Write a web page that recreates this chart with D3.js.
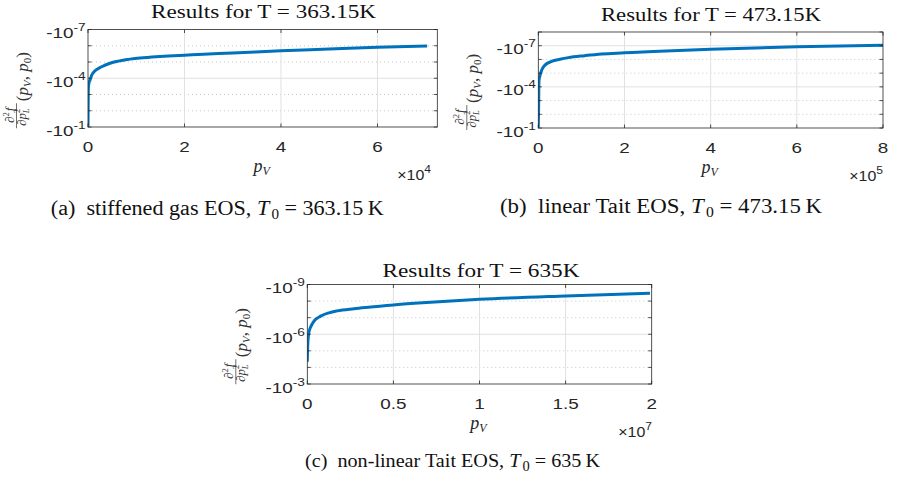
<!DOCTYPE html>
<html>
<head>
<meta charset="utf-8">
<script src="https://cdn.jsdelivr.net/npm/d3@7/dist/d3.min.js"></script>
<style>
body { margin: 0; background: #fff; }
svg { display: block; }
</style>
</head>
<body>
<div id="fig"></div>
<script>
// Values. f is negative, we keep |f| and draw it on a log axis
// (labels carry the minus sign, big |f| at the bottom).

// (a) stiffened gas EOS
var pvA = [0, 40, 70, 150, 280, 414, 760, 1450, 2830, 4560, 6290, 9740, 13200, 16650, 20000, 24000, 30000, 40000, 50000, 60000, 70300];
var fA  = [9e-2, 3e-3, 4.3e-4, 2.4e-4, 1.6e-4, 1.3e-4, 6.5e-5, 3.5e-5, 1.96e-5, 1.2e-5, 8.8e-6, 6.0e-6, 5.0e-6, 4.3e-6, 3.8e-6, 3.3e-6, 2.8e-6, 2.0e-6, 1.6e-6, 1.25e-6, 1.05e-6];

// (b) linear Tait EOS
var pvB = [0, 800, 1600, 3900, 7800, 15500, 31000, 50300, 69600, 108000, 147000, 200000, 267000, 400000, 600000, 800000];
var fB  = [9e-2, 2e-3, 3.5e-5, 1.5e-5, 6.1e-6, 2.6e-6, 1.4e-6, 9.8e-7, 7.4e-7, 5.3e-7, 4.0e-7, 3.3e-7, 2.6e-7, 1.8e-7, 1.2e-7, 9.1e-8];

// (c) non-linear Tait EOS
var pvC = [0, 15000, 40000, 99000, 198000, 390000, 779000, 1260000, 1740000, 2710000, 3690000, 5000000, 6690000, 10000000, 15000000, 19900000];
var fC  = [4.5e-5, 1e-5, 2.3e-6, 7.4e-7, 3.6e-7, 1.6e-7, 8.1e-8, 5.1e-8, 3.9e-8, 2.9e-8, 2.3e-8, 1.7e-8, 1.26e-8, 7.8e-9, 4.9e-9, 3.4e-9];

// ticks
var xTicksA = [0, 2, 4, 6];
var xTicksB = [0, 2, 4, 6, 8];
var xTicksC = [0, 0.5, 1, 1.5, 2];
var xExpA = 4, xExpB = 5, xExpC = 7;
var yExpA = [-7, -4, -1];
var yExpB = [-7, -4, -1];
var yExpC = [-9, -6, -3];

// texts
var titles = ["Results for T = 363.15K", "Results for T = 473.15K", "Results for T = 635K"];
var capTags = ["(a)", "(b)", "(c)"];
var capNames = ["stiffened gas EOS, ", "linear Tait EOS, ", "non-linear Tait EOS, "];
var capT0 = ["363.15", "473.15", "635"];


var svg = d3.select("#fig")
	.append("svg")
	.attr("width", 898)
	.attr("height", 478);

var blue = "#0072BD";
var axisColor = "#262626";

// layout of the three panels
var panels = [
	{pv: pvA, f: fA, xTicks: xTicksA, xExp: xExpA, yExp: yExpA, yTop: 1e-7, yBottom: 1e-1, xMax: 72400,
	 left: 88, right: 437.3, top: 29.5, bottom: 127, expRight: 431,
	 title: titles[0], titleX: 263.5, titleY: 18, titleW: 225,
	 cap: 0, capX: 217.3, capY: 215, capW: 333, capSize: 20.5},
	{pv: pvB, f: fB, xTicks: xTicksB, xExp: xExpB, yExp: yExpB, yTop: 1e-8, yBottom: 1e-1, xMax: 8e5,
	 left: 538.3, right: 883, top: 32, bottom: 128, expRight: 883,
	 title: titles[1], titleX: 711, titleY: 20.7, titleW: 220,
	 cap: 1, capX: 661, capY: 212.7, capW: 322, capSize: 20.5},
	{pv: pvC, f: fC, xTicks: xTicksC, xExp: xExpC, yExp: yExpC, yTop: 1e-9, yBottom: 1e-3, xMax: 2e7,
	 left: 307.3, right: 651.7, top: 284.5, bottom: 384, expRight: 652,
	 title: titles[2], titleX: 481, titleY: 276.7, titleW: 197,
	 cap: 2, capX: 452.5, capY: 467.3, capW: 295, capSize: 19.5}
];

// text stretched horizontally (the figure is wider than its fonts)
function sText(g, x, y, sx)
{
	return g.append("text").attr("transform", "translate(" + x + "," + y + ") scale(" + sx + ",1)");
}

panels.forEach(function(p, i)
{
	var g = svg.append("g");
	var x = d3.scaleLinear().domain([0, p.xMax]).range([p.left, p.right]);
	var y = d3.scaleLog().domain([p.yBottom, p.yTop]).range([p.bottom, p.top]);
	var mult = Math.pow(10, p.xExp);

	var lo = Math.round(Math.log10(p.yTop)), hi = Math.round(Math.log10(p.yBottom));
	var decades = d3.range(lo, hi + 1);

	// grid
	g.selectAll(".hgrid")
		.data(decades.filter(function(e){ return e != lo && e != hi; }))
		.enter().append("line")
			.attr("x1", p.left).attr("x2", p.right)
			.attr("y1", function(e){ return y(Math.pow(10, e)); })
			.attr("y2", function(e){ return y(Math.pow(10, e)); })
			.attr("stroke", function(e){ return p.yExp.indexOf(e) >= 0 ? "#e1e1e1" : "#c8c8c8"; })
			.attr("stroke-width", 1)
			.attr("stroke-dasharray", function(e){ return p.yExp.indexOf(e) >= 0 ? null : "1,3"; });

	g.selectAll(".vgrid")
		.data(p.xTicks.filter(function(t){ return x(t * mult) > p.left + 1 && x(t * mult) < p.right - 1; }))
		.enter().append("line")
			.attr("x1", function(t){ return x(t * mult); })
			.attr("x2", function(t){ return x(t * mult); })
			.attr("y1", p.top).attr("y2", p.bottom)
			.attr("stroke", "#e1e1e1").attr("stroke-width", 1);

	// curve
	var clipId = "clip" + i;
	svg.append("clipPath").attr("id", clipId)
		.append("rect")
			.attr("x", p.left).attr("y", p.top)
			.attr("width", p.right - p.left).attr("height", p.bottom - p.top);

	var pts = p.pv.map(function(v, k){ return [v, p.f[k]]; });
	g.append("path")
		.datum(pts)
		.attr("clip-path", "url(#" + clipId + ")")
		.attr("fill", "none")
		.attr("stroke", blue)
		.attr("stroke-width", 3)
		.attr("stroke-linejoin", "round")
		.attr("d", d3.line()
			.x(function(d){ return x(d[0]); })
			.y(function(d){ return y(d[1]); })
			.curve(d3.curveMonotoneX));

	// box
	g.append("rect")
		.attr("x", p.left).attr("y", p.top)
		.attr("width", p.right - p.left).attr("height", p.bottom - p.top)
		.attr("fill", "none").attr("stroke", axisColor).attr("stroke-width", 0.8);

	// ticks (inside, mirrored)
	var tl = 3.5;
	p.xTicks.forEach(function(t)
	{
		var xx = x(t * mult);
		g.append("line").attr("x1", xx).attr("x2", xx).attr("y1", p.bottom).attr("y2", p.bottom - tl)
			.attr("stroke", axisColor).attr("stroke-width", 0.8);
		g.append("line").attr("x1", xx).attr("x2", xx).attr("y1", p.top).attr("y2", p.top + tl)
			.attr("stroke", axisColor).attr("stroke-width", 0.8);
	});
	decades.forEach(function(e)
	{
		var yy = y(Math.pow(10, e));
		g.append("line").attr("x1", p.left).attr("x2", p.left + tl).attr("y1", yy).attr("y2", yy)
			.attr("stroke", axisColor).attr("stroke-width", 0.8);
		g.append("line").attr("x1", p.right).attr("x2", p.right - tl).attr("y1", yy).attr("y2", yy)
			.attr("stroke", axisColor).attr("stroke-width", 0.8);
	});

	// x tick labels
	p.xTicks.forEach(function(t)
	{
		sText(g, x(t * mult), p.bottom + 24.5, 1.3)
			.attr("text-anchor", "middle")
			.attr("font-family", "Liberation Sans, Arial, sans-serif")
			.attr("font-size", 14.5)
			.attr("fill", axisColor)
			.text(t);
	});

	// y tick labels  -10^e
	p.yExp.forEach(function(e)
	{
		var t = sText(g, p.left - 2.5, y(Math.pow(10, e)) + 8.5, 1.3)
			.attr("text-anchor", "end")
			.attr("font-family", "Liberation Sans, Arial, sans-serif")
			.attr("fill", axisColor);
		t.append("tspan").attr("font-size", 14.5).text("-10");
		t.append("tspan").attr("font-size", 10.5).attr("dy", -7).text(String(e));
	});

	// x10^n
	var ex = sText(g, p.expRight, p.bottom + 53, 1.1)
		.attr("text-anchor", "end")
		.attr("font-family", "Liberation Sans, Arial, sans-serif")
		.attr("fill", axisColor);
	ex.append("tspan").attr("font-size", 14.5).text("\u00d710");
	ex.append("tspan").attr("font-size", 11).attr("dy", -7.5).text(p.xExp);

	// x label p_V
	var xl = g.append("text")
		.attr("x", (p.left + p.right) / 2 - 1)
		.attr("y", p.bottom + 45)
		.attr("text-anchor", "middle")
		.attr("font-family", "Liberation Serif, serif")
		.attr("fill", axisColor);
	xl.append("tspan").attr("font-style", "italic").attr("font-size", 18).text("p");
	xl.append("tspan").attr("font-style", "italic").attr("font-size", 12).attr("dy", 3).text("V");

	// y label  d2f/dpL2 (pV, p0), rotated
	var yl = g.append("g")
		.attr("transform", "translate(" + (p.left - 85) + "," + ((p.top + p.bottom) / 2) + ") rotate(-90)")
		.attr("font-family", "Liberation Serif, serif")
		.attr("fill", "#333");
	var num = yl.append("text").attr("x", -37).attr("y", 10.5).attr("text-anchor", "middle").attr("font-size", 13);
	num.append("tspan").text("\u2202");
	num.append("tspan").attr("font-size", 8.5).attr("dy", -5).text("2");
	num.append("tspan").attr("font-style", "italic").attr("dx", 1).attr("dy", 5).text("f");
	yl.append("line").attr("x1", -50).attr("x2", -25).attr("y1", 13.5).attr("y2", 13.5)
		.attr("stroke", "#333").attr("stroke-width", 0.7);
	var den = yl.append("text").attr("x", -39).attr("y", 22.5).attr("text-anchor", "middle").attr("font-size", 13);
	den.append("tspan").text("\u2202");
	den.append("tspan").attr("font-style", "italic").text("p");
	den.append("tspan").attr("font-size", 8.5).attr("dy", -5.5).text("2");
	den.append("tspan").attr("font-size", 8.5).attr("font-style", "italic").attr("dx", -4.5).attr("dy", 8.5).text("L");
	var arg = yl.append("text").attr("x", -23).attr("y", 24.5).attr("font-size", 17);
	arg.append("tspan").text("(");
	arg.append("tspan").attr("font-style", "italic").text("p");
	arg.append("tspan").attr("font-style", "italic").attr("font-size", 11).attr("dy", 3).text("V");
	arg.append("tspan").attr("dy", -3).text(", ");
	arg.append("tspan").attr("font-style", "italic").text("p");
	arg.append("tspan").attr("font-size", 11).attr("dy", 3).text("0");
	arg.append("tspan").attr("dy", -3).text(")");

	// title
	g.append("text")
		.attr("x", p.titleX - p.titleW / 2)
		.attr("y", p.titleY)
		.attr("textLength", p.titleW)
		.attr("lengthAdjust", "spacingAndGlyphs")
		.attr("font-family", "Liberation Serif, serif")
		.attr("font-size", 18.5)
		.attr("fill", "#111")
		.text(p.title);

	// caption
	var c = svg.append("text")
		.attr("x", p.capX - p.capW / 2)
		.attr("y", p.capY)
		.attr("textLength", p.capW)
		.attr("lengthAdjust", "spacingAndGlyphs")
		.attr("font-family", "Liberation Serif, serif")
		.attr("font-size", p.capSize)
		.attr("fill", "#111");
	c.append("tspan").text(capTags[p.cap] + "\u2002" + capNames[p.cap]);
	c.append("tspan").attr("font-style", "italic").text("T");
	c.append("tspan").attr("font-size", 14).attr("dx", 2).attr("dy", 4).text("0");
	c.append("tspan").attr("dy", -4).text(" = " + capT0[p.cap] + "\u2009K");
});
</script>
</body>
</html>
